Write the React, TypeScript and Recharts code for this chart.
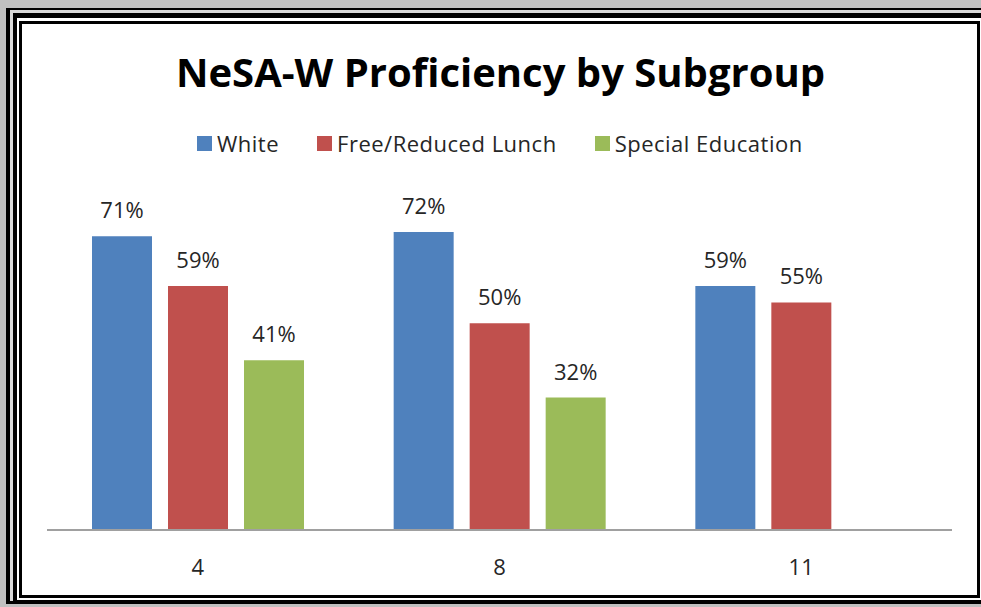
import React from 'react';
import { BarChart, Bar, XAxis, YAxis, Legend, LabelList } from 'recharts';

// grades on the x axis
const grades = ['4', '8', '11'];

// percent proficient per subgroup
const whiteValues = [71, 72, 59];
const lunchValues = [59, 50, 55];
const spedValues = [41, 32, null];

const seriesNames = ['White', 'Free/Reduced Lunch', 'Special Education'];
const COLORS = ['#4f81bd', '#c0504d', '#9bbb59'];

const chartData = grades.map((grade, i) => ({
  grade,
  white: whiteValues[i],
  lunch: lunchValues[i],
  sped: spedValues[i]
}));

const FONT = '"Open Sans", "Noto Sans", sans-serif';

const pct = (v: any) => (v === null || v === undefined ? '' : `${v}%`);

const renderLegend = (props: any) => {
  // keep the series order, not alphabetical
  const payload = [...props.payload].sort(
    (a: any, b: any) => seriesNames.indexOf(a.value) - seriesNames.indexOf(b.value)
  );
  return (
    <div style={{ display: 'flex', alignItems: 'center', fontFamily: FONT, fontSize: 22, letterSpacing: 0.5, color: '#262626' }}>
      {payload.map((entry: any, index: number) => (
        <div key={`item-${index}`} style={{ display: 'flex', alignItems: 'center', marginRight: 38 }}>
          <span style={{ display: 'inline-block', width: 15, height: 15, background: entry.color, marginRight: 5 }} />
          <span style={{ lineHeight: '22px' }}>{entry.value}</span>
        </div>
      ))}
    </div>
  );
};

export default function App() {
  return (
    <div style={{ position: 'absolute', left: 0, top: 0, width: 981, height: 607, background: '#c0c0c0', overflow: 'hidden' }}>
      {/* layered borders around the chart */}
      <div style={{ position: 'absolute', left: 6, top: 8, width: 990, height: 596, background: '#000' }} />
      <div style={{ position: 'absolute', left: 10, top: 10, width: 990, height: 591, background: '#d8d8d8' }} />
      <div style={{ position: 'absolute', left: 13, top: 13, width: 990, height: 588, background: '#000' }} />
      <div style={{ position: 'absolute', left: 17, top: 18, width: 990, height: 582, background: '#fff' }} />
      <div style={{ position: 'absolute', left: 19, top: 21, width: 955, height: 571, background: '#fff', border: '3px solid #000' }} />

      <div
        style={{
          position: 'absolute',
          left: 0,
          top: 51,
          width: 1001,
          textAlign: 'center',
          fontFamily: FONT,
          fontWeight: 700,
          fontSize: 40,
          lineHeight: '41px',
          color: '#000'
        }}
      >
        NeSA-W Proficiency by Subgroup
      </div>

      <div style={{ position: 'absolute', left: 0, top: 0 }}>
        <BarChart
          width={981}
          height={607}
          data={chartData}
          margin={{ top: 199, right: 29, bottom: 37, left: 47 }}
          barSize={60}
          barGap={16}
        >
          <XAxis
            dataKey="grade"
            height={40}
            axisLine={{ stroke: '#a0a0a0', strokeWidth: 2 }}
            tickLine={false}
            tickSize={0}
            tickMargin={29}
            tick={{ fill: '#262626', fontSize: 22, fontFamily: FONT }}
          />
          <YAxis hide domain={[0, 80]} />
          <Legend
            verticalAlign="middle"
            align="center"
            layout="horizontal"
            content={renderLegend}
            wrapperStyle={{ top: 132, left: 197, width: 760 }}
          />
          <Bar dataKey="white" name={seriesNames[0]} fill={COLORS[0]} isAnimationActive={false}>
            <LabelList dataKey="white" position="top" offset={18} formatter={pct} fill="#262626" fontSize={22} fontFamily={FONT} />
          </Bar>
          <Bar dataKey="lunch" name={seriesNames[1]} fill={COLORS[1]} isAnimationActive={false}>
            <LabelList dataKey="lunch" position="top" offset={18} formatter={pct} fill="#262626" fontSize={22} fontFamily={FONT} />
          </Bar>
          <Bar dataKey="sped" name={seriesNames[2]} fill={COLORS[2]} isAnimationActive={false}>
            <LabelList dataKey="sped" position="top" offset={18} formatter={pct} fill="#262626" fontSize={22} fontFamily={FONT} />
          </Bar>
        </BarChart>
      </div>
    </div>
  );
}
